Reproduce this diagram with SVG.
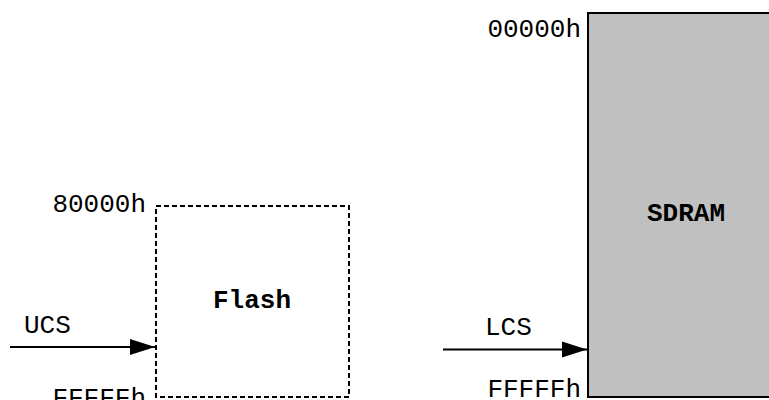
<svg xmlns="http://www.w3.org/2000/svg" width="769" height="400" viewBox="0 0 769 400">
<style>
.lbl{font-family:"Liberation Mono","Courier New",monospace;font-size:26px;fill:#000}
.name{font-family:"Liberation Mono","Courier New",monospace;font-size:26px;font-weight:bold;fill:#000;text-anchor:middle}
.conn{stroke:#000;stroke-width:2;fill:none}
</style>
<defs>
<marker id="ah" markerUnits="userSpaceOnUse" markerWidth="26" markerHeight="18" refX="25" refY="9" orient="auto">
<path d="M0,1 L25,9 L0,17 Z" fill="#000"/>
</marker>
</defs>
<rect width="769" height="400" fill="#fff"/>
<g id="flash">
<rect x="156" y="206" width="193" height="191" fill="#fff" stroke="#000" stroke-width="2" stroke-dasharray="5,3"/>
<text class="name" x="252" y="308">Flash</text>
<text class="lbl" x="146" y="212" text-anchor="end">80000h</text>
<text class="lbl" x="146" y="406" text-anchor="end">FFFFFh</text>
</g>
<g id="sdram">
<rect x="588" y="13" width="196" height="384" fill="#c0c0c0" stroke="#000" stroke-width="2"/>
<text class="name" x="686" y="221">SDRAM</text>
<text class="lbl" x="581" y="37" text-anchor="end">00000h</text>
<text class="lbl" x="581" y="397" text-anchor="end">FFFFFh</text>
</g>
<g id="connectors">
<line class="conn" x1="10" y1="347" x2="155" y2="347" marker-end="url(#ah)"/>
<text class="lbl" x="24" y="333">UCS</text>
<line class="conn" x1="443" y1="349.5" x2="587" y2="349.5" marker-end="url(#ah)"/>
<text class="lbl" x="485" y="335">LCS</text>
</g>
</svg>
